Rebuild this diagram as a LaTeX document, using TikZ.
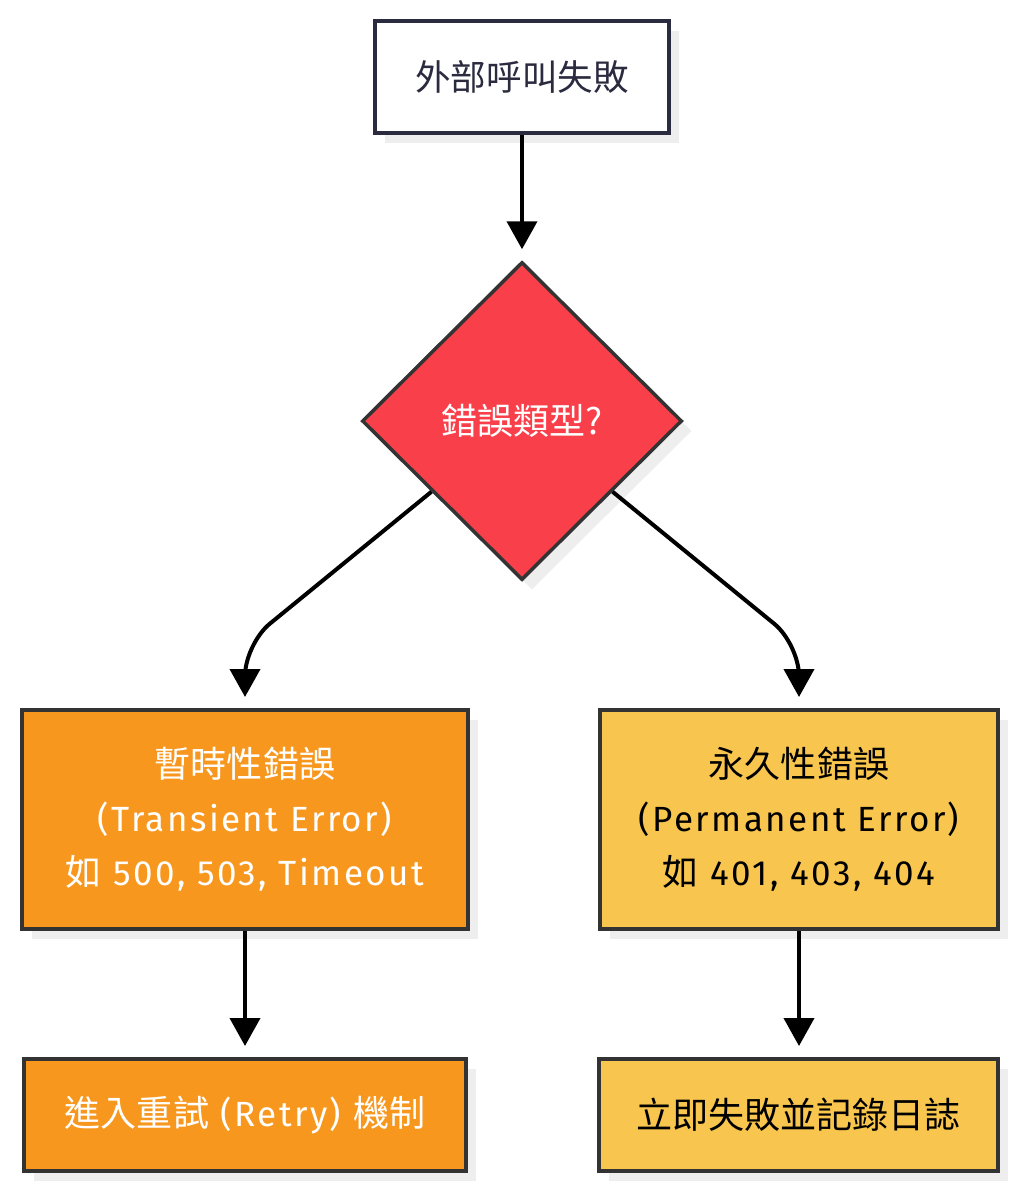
\documentclass[tikz,border=0pt]{standalone}
\usepackage{fontspec}
\setmainfont[LetterSpace=7]{Fira Sans}
\newfontfamily\cjk[Scale=1.03]{Noto Sans CJK TC}
\usetikzlibrary{calc,shapes.geometric,arrows.meta,shadows}

\definecolor{navyline}{HTML}{2B2B40}
\definecolor{greyline}{HTML}{333333}
\definecolor{redfill}{HTML}{F9404A}
\definecolor{orangefill}{HTML}{F7971E}
\definecolor{yellowfill}{HTML}{F8C64E}
\definecolor{shadowgrey}{HTML}{EEEEEE}

\tikzset{
	shade box/.style={drop shadow={shadow xshift=10pt, shadow yshift=-10pt, fill=shadowgrey, opacity=1}},
	flowbox/.style={draw=greyline, line width=4pt, rectangle, inner sep=0pt, align=center, font=\fontsize{35}{54}\selectfont, shade box},
	decision/.style={draw=greyline, line width=3.5pt, diamond, inner sep=0pt, font=\fontsize{35}{54}\selectfont, shade box},
	flowarrow/.style={line width=4pt, -{Triangle[width=30pt,length=28pt]}, shorten >=11pt}
}

\begin{document}
\begin{tikzpicture}[x=1pt, y=-1pt]
			%%%%% START %%%%%
			\useasboundingbox[fill=white] (0, 0) rectangle (1024, 1197);
			
			\node[flowbox, draw=navyline, fill=white, text=navyline, minimum width=294pt, minimum height=112pt, font=\fontsize{34.5}{54}\selectfont] (fail) at (522, 77) {\cjk 外部呼叫失敗};
			
			\node[decision, fill=redfill, text=white, minimum width=320pt, minimum height=318pt] (kind) at (522, 421) {\cjk 錯誤類型?};
			
			\node[flowbox, fill=orangefill, text=white, minimum width=446pt, minimum height=219pt] (transient) at (245, 819.5) {{\cjk 暫時性錯誤}\\(Transient Error)\\{\cjk 如} 500, 503, Timeout};
			\node[flowbox, fill=yellowfill, text=black, minimum width=398pt, minimum height=219pt] (permanent) at (799, 819.5) {{\cjk 永久性錯誤}\\(Permanent Error)\\{\cjk 如} 401, 403, 404};
			
			\node[flowbox, fill=orangefill, text=white, minimum width=442pt, minimum height=112pt] (retry) at (245, 1115) {{\cjk 進入重試} (Retry) {\cjk 機制}};
			\node[flowbox, fill=yellowfill, text=black, minimum width=399pt, minimum height=112pt] (logfail) at (798.5, 1115) {\cjk 立即失敗並記錄日誌};
			
			\draw[flowarrow] (fail.south) -- (kind.north);
			\draw[flowarrow, rounded corners=32pt] ($(kind.west)!0.44!(kind.south)$) -- (245, 644) -- (transient.north);
			\draw[flowarrow, rounded corners=32pt] ($(kind.east)!0.44!(kind.south)$) -- (799, 644) -- (permanent.north);
			\draw[flowarrow] (transient.south) -- (retry.north);
			\draw[flowarrow] (permanent.south) -- (permanent.south |- logfail.north);
			
			%%%%% END %%%%%
\end{tikzpicture}
\end{document}
